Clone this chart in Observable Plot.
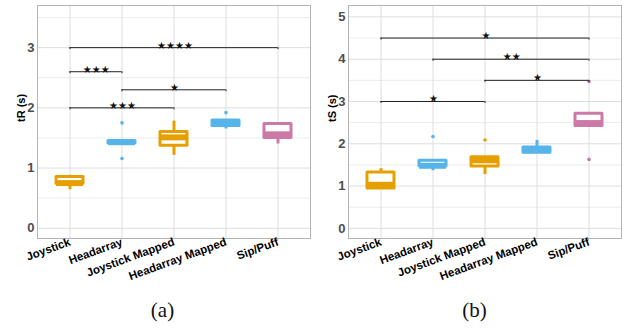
<!DOCTYPE html>
<html>
<head>
<meta charset="utf-8">
<script src="https://cdn.jsdelivr.net/npm/d3@7"></script>
<script src="https://cdn.jsdelivr.net/npm/@observablehq/plot@0.6"></script>
<style>
  html, body { margin: 0; padding: 0; background: white; }
  #wrap { display: flex; width: 624px; height: 328px; }
  .panel { width: 312px; }
  .cap { height: 38px; line-height: 40px; text-align: center; padding-left: 13px;
         font-family: "Liberation Serif", "Times New Roman", serif; font-size: 21px; color: #111; }
</style>
</head>
<body>
<div id="wrap"></div>
<script>
const categories = ["Joystick", "Headarray", "Joystick Mapped", "Headarray Mapped", "Sip/Puff"];
const boxColors = ["#E69F00", "#56B4E9", "#E69F00", "#56B4E9", "#CC79A7"];

// Panel (a): tR (s)
const tR_lo  = [0.64, 1.41, 1.21, 1.65, 1.40];
const tR_q1  = [0.74, 1.41, 1.37, 1.70, 1.50];
const tR_med = [0.75, 1.43, 1.51, 1.75, 1.56];
const tR_q3  = [0.85, 1.45, 1.60, 1.79, 1.73];
const tR_hi  = [0.88, 1.45, 1.78, 1.79, 1.73];
const tR_outCat = ["Headarray", "Headarray", "Headarray Mapped"];
const tR_outVal = [1.75, 1.16, 1.92];
const tR_brFrom = ["Joystick", "Joystick", "Headarray", "Joystick"];
const tR_brTo   = ["Sip/Puff", "Headarray", "Headarray Mapped", "Joystick Mapped"];
const tR_brY    = [3.0, 2.6, 2.3, 2.0];
const tR_brLab  = ["★★★★", "★★★", "★", "★★★"];
const tR_ticks  = [0, 1, 2, 3];

// Panel (b): tS (s)
const tS_lo  = [0.94, 1.36, 1.27, 1.79, 2.42];
const tS_q1  = [0.94, 1.47, 1.46, 1.79, 2.42];
const tS_med = [1.03, 1.48, 1.61, 1.85, 2.49];
const tS_q3  = [1.32, 1.60, 1.68, 1.91, 2.71];
const tS_hi  = [1.41, 1.60, 1.68, 2.08, 2.71];
const tS_outCat = ["Headarray", "Joystick Mapped", "Sip/Puff", "Sip/Puff"];
const tS_outVal = [2.17, 2.09, 1.63, 3.47];
const tS_brFrom = ["Joystick", "Headarray", "Joystick Mapped", "Joystick"];
const tS_brTo   = ["Sip/Puff", "Sip/Puff", "Sip/Puff", "Joystick Mapped"];
const tS_brY    = [4.5, 4.0, 3.5, 3.0];
const tS_brLab  = ["★", "★★", "★", "★"];
const tS_ticks  = [0, 1, 2, 3, 4, 5];

function panel(o) {
  const W = 312, H = 290, mt = 5, mb = 52;
  const pi = 0.486, po = 0.343;
  const n = categories.length;
  const step = (W - o.ml - o.mr) / (n - pi + 2 * po);
  const bw = step * (1 - pi);
  const pxPerUnit = (H - mt - mb) / (o.yDomain[1] - o.yDomain[0]);
  const tk = 2 / pxPerUnit;
  const boxes = categories.map((c, i) => ({cat: c, lo: o.lo[i], q1: o.q1[i], med: o.med[i], q3: o.q3[i], hi: o.hi[i], color: boxColors[i]}));
  const outs = o.outCat.map((c, i) => ({cat: c, v: o.outVal[i], color: boxColors[categories.indexOf(c)]}));
  const brs = o.brFrom.map((a, i) => ({a, b: o.brTo[i], y: o.brY[i], s: o.brLab[i]}));
  const ends = brs.flatMap(d => [{cat: d.a, y: d.y}, {cat: d.b, y: d.y}]);
  const minor = d3.range(0.5, o.yDomain[1], 1);
  return Plot.plot({
    width: W, height: H, marginLeft: o.ml, marginRight: o.mr, marginTop: mt, marginBottom: mb,
    style: {fontFamily: "'Liberation Sans', Arial, Helvetica, sans-serif", background: "white", overflow: "visible"},
    x: {type: "band", domain: categories, paddingInner: pi, paddingOuter: po},
    y: {domain: o.yDomain},
    color: {type: "identity"},
    marks: [
      Plot.gridY(minor, {stroke: "#ebebeb", strokeOpacity: 1}),
      Plot.gridY(o.ticks, {stroke: "#dedede", strokeOpacity: 1}),
      Plot.gridX(categories, {stroke: "#dedede", strokeOpacity: 1}),
      Plot.frame({stroke: "#b3b3b3"}),
      Plot.axisY(o.ticks, {tickSize: 0, tickPadding: 3, tickFormat: d3.format("d"), fontSize: 13, fontWeight: "bold", fill: "#4d4d4d", label: null}),
      Plot.axisX({tickSize: 0, tickPadding: 3, tickRotate: -20, fontSize: 11.5, fontWeight: "bold", fill: "black", label: null}),
      Plot.text([o.label], {frameAnchor: "left", text: d => d, rotate: -90, dx: -16.5, fontSize: 11, fontWeight: "bold", fill: "black"}),
      Plot.ruleX(boxes, {x: "cat", y1: "lo", y2: "hi", stroke: "color", strokeWidth: 3}),
      Plot.barY(boxes, {x: "cat", y1: "q1", y2: "q3", fill: "white", stroke: "color", strokeWidth: 3, strokeLinejoin: "round"}),
      Plot.tickY(boxes, {x: "cat", y: "med", stroke: "color", strokeWidth: 6}),
      Plot.dot(outs, {x: "cat", y: "v", r: 1.8, fill: "color", stroke: null}),
      Plot.ruleY(brs, {x1: "a", x2: "b", y: "y", stroke: "#222", strokeWidth: 1, insetLeft: bw / 2, insetRight: bw / 2}),
      Plot.ruleX(ends, {x: "cat", y1: d => d.y - tk, y2: "y", stroke: "#222", strokeWidth: 1}),
      ...brs.map(d => Plot.text([d], {
        x: "a", y: "y", text: "s",
        dx: (categories.indexOf(d.b) - categories.indexOf(d.a)) * step / 2,
        dy: 1, lineAnchor: "bottom", fontSize: 10, fill: "#111",
        fontFamily: "'DejaVu Sans', sans-serif"
      }))
    ]
  });
}

const wrap = document.getElementById("wrap");
const specs = [
  {lo: tR_lo, q1: tR_q1, med: tR_med, q3: tR_q3, hi: tR_hi, outCat: tR_outCat, outVal: tR_outVal,
   brFrom: tR_brFrom, brTo: tR_brTo, brY: tR_brY, brLab: tR_brLab, ticks: tR_ticks,
   yDomain: [-0.17, 3.70], label: "tR (s)", ml: 37, mr: 2, cap: "(a)"},
  {lo: tS_lo, q1: tS_q1, med: tS_med, q3: tS_q3, hi: tS_hi, outCat: tS_outCat, outVal: tS_outVal,
   brFrom: tS_brFrom, brTo: tS_brTo, brY: tS_brY, brLab: tS_brLab, ticks: tS_ticks,
   yDomain: [-0.24, 5.27], label: "tS (s)", ml: 36, mr: 3, cap: "(b)"}
];
for (const s of specs) {
  const div = document.createElement("div");
  div.className = "panel";
  div.appendChild(panel(s));
  const cap = document.createElement("div");
  cap.className = "cap";
  cap.textContent = s.cap;
  div.appendChild(cap);
  wrap.appendChild(div);
}
</script>
</body>
</html>
